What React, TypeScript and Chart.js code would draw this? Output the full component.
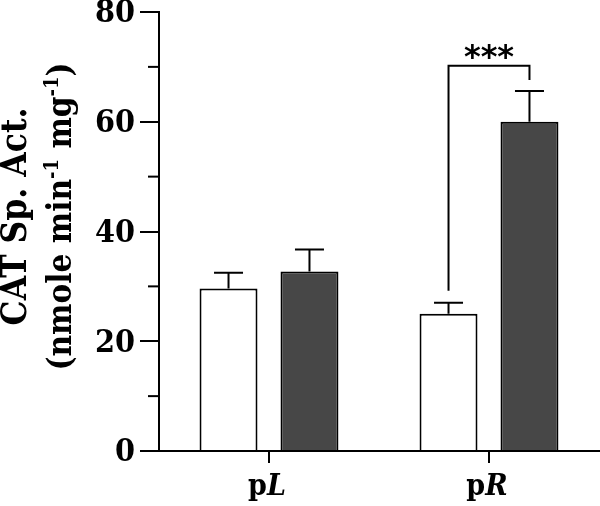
import React, { useEffect, useRef } from 'react';
import { Chart, registerables } from 'chart.js';

Chart.register(...registerables);

// ---- data ----
const categories = ['pL', 'pR'];
const categoryPrefix = ['p', 'p'];
const categoryItalic = ['L', 'R'];
const controlMeans = [29.6, 25.0];
const controlErrors = [2.9, 2.0];
const treatedMeans = [32.7, 60.0];
const treatedErrors = [4.0, 5.6];
const yMajorStep = 20;
const yMinorTicks = [10, 30, 50, 70];
const sigLabel = '***';
const sigLevel = 70.2;
const sigLeftBottom = 29.2;
const sigRightBottom = 67.6;
const titleLine1 = [{ t: 'CAT Sp. Act.', sup: false }];
const titleLine2 = [
  { t: '(nmole min', sup: false },
  { t: '-1', sup: true },
  { t: ' mg', sup: false },
  { t: '-1', sup: true },
  { t: ')', sup: false },
];

const SERIF = '"DejaVu Serif Condensed", "DejaVu Serif", serif';

function drawRich(ctx: CanvasRenderingContext2D, segs: { t: string; sup: boolean }[], size: number) {
  const mainFont = `bold ${size}px ${SERIF}`;
  const supFont = `bold ${Math.round(size * 0.6)}px ${SERIF}`;
  let total = 0;
  const widths = segs.map((s) => {
    ctx.font = s.sup ? supFont : mainFont;
    const w = ctx.measureText(s.t).width;
    total += w;
    return w;
  });
  let x = -total / 2;
  ctx.textAlign = 'left';
  ctx.textBaseline = 'alphabetic';
  segs.forEach((s, i) => {
    ctx.font = s.sup ? supFont : mainFont;
    ctx.fillText(s.t, x, s.sup ? -size * 0.38 : 0);
    x += widths[i];
  });
}

const overlayPlugin = {
  id: 'overlay',
  afterDatasetsDraw(chart: any) {
    const ctx: CanvasRenderingContext2D = chart.ctx;
    const ys = chart.scales.y;
    const errs = [controlErrors, treatedErrors];
    ctx.save();
    ctx.strokeStyle = '#000';
    ctx.lineWidth = 2;
    chart.data.datasets.forEach((ds: any, di: number) => {
      const meta = chart.getDatasetMeta(di);
      meta.data.forEach((el: any, i: number) => {
        const v = ds.data[i];
        const base = ys.getPixelForValue(v);
        const top = ys.getPixelForValue(v + errs[di][i]);
        ctx.beginPath();
        ctx.moveTo(el.x, base);
        ctx.lineTo(el.x, top);
        ctx.moveTo(el.x - 14.5, top);
        ctx.lineTo(el.x + 14.5, top);
        ctx.stroke();
      });
    });
    // significance bracket on pR
    const lx = chart.getDatasetMeta(0).data[1].x;
    const rx = chart.getDatasetMeta(1).data[1].x;
    const ly = ys.getPixelForValue(sigLevel);
    ctx.beginPath();
    ctx.moveTo(lx, ys.getPixelForValue(sigLeftBottom));
    ctx.lineTo(lx, ly);
    ctx.lineTo(rx, ly);
    ctx.lineTo(rx, ys.getPixelForValue(sigRightBottom));
    ctx.stroke();
    ctx.fillStyle = '#000';
    ctx.font = `bold 32px "DejaVu Sans", sans-serif`;
    ctx.textAlign = 'center';
    ctx.textBaseline = 'alphabetic';
    const m = ctx.measureText(sigLabel);
    const center = ly - 14;
    const baseline = center - (m.actualBoundingBoxDescent - m.actualBoundingBoxAscent) / 2;
    ctx.fillText(sigLabel, (lx + rx) / 2, baseline);
    ctx.restore();
  },
  afterDraw(chart: any) {
    const ctx: CanvasRenderingContext2D = chart.ctx;
    const ys = chart.scales.y;
    const xs = chart.scales.x;
    const left = chart.chartArea.left;
    ctx.save();
    // minor ticks
    ctx.strokeStyle = '#000';
    ctx.lineWidth = 2;
    yMinorTicks.forEach((v) => {
      const py = ys.getPixelForValue(v);
      ctx.beginPath();
      ctx.moveTo(left - 11, py);
      ctx.lineTo(left, py);
      ctx.stroke();
    });
    // x labels with italic part
    ctx.fillStyle = '#000';
    ctx.textBaseline = 'alphabetic';
    ctx.textAlign = 'left';
    const fUp = `bold 30px ${SERIF}`;
    const fIt = `italic bold 30px ${SERIF}`;
    categories.forEach((_, i) => {
      const px = xs.getPixelForTick(i);
      ctx.font = fUp;
      const w1 = ctx.measureText(categoryPrefix[i]).width;
      ctx.font = fIt;
      const w2 = ctx.measureText(categoryItalic[i]).width;
      const start = px - (w1 + w2) / 2 - 2;
      ctx.font = fUp;
      ctx.fillText(categoryPrefix[i], start, 495);
      ctx.font = fIt;
      ctx.fillText(categoryItalic[i], start + w1, 495);
    });
    // y title
    const cy = (chart.chartArea.top + chart.chartArea.bottom) / 2 - 15;
    ctx.save();
    ctx.translate(26, cy);
    ctx.rotate(-Math.PI / 2);
    drawRich(ctx, titleLine1, 35);
    ctx.restore();
    ctx.save();
    ctx.translate(71, cy);
    ctx.rotate(-Math.PI / 2);
    drawRich(ctx, titleLine2, 33);
    ctx.restore();
    ctx.restore();
  },
};

export default function App() {
  const ref = useRef<HTMLCanvasElement>(null);
  useEffect(() => {
    const chart = new Chart(ref.current as HTMLCanvasElement, {
      type: 'bar',
      data: {
        labels: categories,
        datasets: [
          {
            label: 'control',
            data: controlMeans,
            backgroundColor: '#ffffff',
            borderColor: '#000000',
            borderWidth: 2,
            categoryPercentage: 0.736,
            barPercentage: 0.716,
          },
          {
            label: 'treated',
            data: treatedMeans,
            backgroundColor: '#474747',
            borderColor: '#000000',
            borderWidth: 2,
            categoryPercentage: 0.736,
            barPercentage: 0.716,
          },
        ],
      },
      options: {
        responsive: true,
        maintainAspectRatio: false,
        animation: false,
        layout: { padding: { top: 12, right: 1, left: 0, bottom: 0 } },
        plugins: { legend: { display: false }, tooltip: { enabled: false } },
        scales: {
          x: {
            offset: true,
            grid: {
              offset: false,
              drawOnChartArea: false,
              drawTicks: true,
              tickLength: 12,
              lineWidth: 2,
              color: '#000',
            },
            border: { display: true, width: 2, color: '#000' },
            ticks: { display: false },
            afterFit: (s: any) => {
              s.height = 55;
            },
          },
          y: {
            min: 0,
            max: 80,
            grid: {
              drawOnChartArea: false,
              drawTicks: true,
              tickLength: 19,
              lineWidth: 2,
              color: '#000',
            },
            border: { display: true, width: 2, color: '#000' },
            ticks: {
              stepSize: yMajorStep,
              color: '#000',
              padding: 5,
              labelOffset: 2,
              font: { family: SERIF, size: 32, weight: 'bold', lineHeight: 0.4 },
            },
            afterFit: (s: any) => {
              s.width = 159;
            },
          },
        },
      },
      plugins: [overlayPlugin],
    } as any);
    return () => chart.destroy();
  }, []);
  return (
    <div style={{ position: 'fixed', left: 0, top: 0, width: 600, height: 506, background: '#fff' }}>
      <canvas ref={ref} />
    </div>
  );
}
